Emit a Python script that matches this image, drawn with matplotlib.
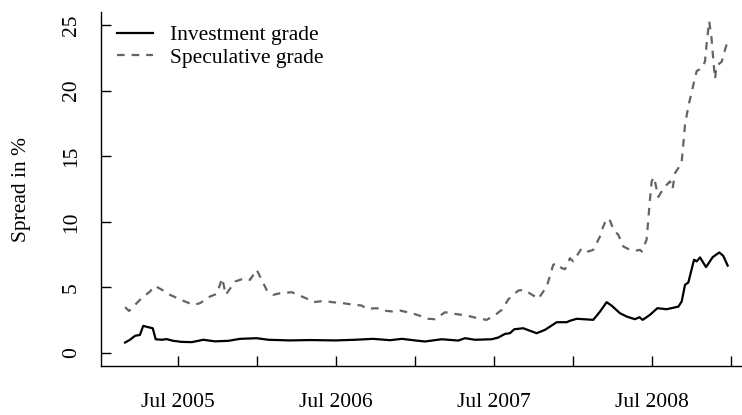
import matplotlib
matplotlib.use("Agg")
import matplotlib.pyplot as plt

plt.rcParams["font.family"] = ["Liberation Serif", "DejaVu Serif"]
plt.rcParams["lines.scale_dashes"] = False

# time in decimal years, spreads in %
ig_time = [2005.165, 2005.196, 2005.228, 2005.259, 2005.280, 2005.312, 2005.340,
           2005.359, 2005.397, 2005.428, 2005.470, 2005.523, 2005.587, 2005.660,
           2005.734, 2005.818, 2005.892, 2005.998, 2006.072, 2006.209, 2006.335,
           2006.494, 2006.620, 2006.734, 2006.842, 2006.918, 2007.000, 2007.063,
           2007.169, 2007.274, 2007.316, 2007.380, 2007.485, 2007.527, 2007.570,
           2007.601, 2007.628, 2007.685, 2007.770, 2007.823, 2007.854, 2007.897,
           2007.960, 2007.981, 2008.023, 2008.065, 2008.128, 2008.171, 2008.213,
           2008.245, 2008.297, 2008.340, 2008.392, 2008.420, 2008.441, 2008.487,
           2008.534, 2008.593, 2008.667, 2008.688, 2008.709, 2008.730, 2008.766,
           2008.783, 2008.804, 2008.842, 2008.884, 2008.926, 2008.951, 2008.979]
ig_spread = [0.79, 1.00, 1.30, 1.37, 2.06, 1.96, 1.88,
             1.04, 1.00, 1.05, 0.92, 0.84, 0.82, 1.00,
             0.88, 0.92, 1.07, 1.12, 1.00, 0.95, 0.98,
             0.95, 1.00, 1.07, 0.97, 1.07, 0.95, 0.87,
             1.04, 0.94, 1.12, 1.00, 1.04, 1.17, 1.45,
             1.50, 1.80, 1.88, 1.50, 1.76, 2.00, 2.34,
             2.34, 2.45, 2.60, 2.57, 2.52, 3.15, 3.87,
             3.60, 3.03, 2.77, 2.57, 2.72, 2.52, 2.90,
             3.41, 3.33, 3.53, 3.92, 5.19, 5.37, 7.10,
             6.98, 7.28, 6.54, 7.30, 7.66, 7.40, 6.66]

sg_time = [2005.165, 2005.190, 2005.249, 2005.270, 2005.323, 2005.354, 2005.418,
           2005.449, 2005.534, 2005.597, 2005.639, 2005.703, 2005.745, 2005.780,
           2005.802, 2005.861, 2005.924, 2005.956, 2005.998, 2006.061, 2006.103,
           2006.146, 2006.220, 2006.251, 2006.325, 2006.356, 2006.430, 2006.473,
           2006.546, 2006.589, 2006.663, 2006.694, 2006.758, 2006.799, 2006.863,
           2006.905, 2006.979, 2007.021, 2007.084, 2007.127, 2007.190, 2007.222,
           2007.296, 2007.337, 2007.411, 2007.454, 2007.517, 2007.549, 2007.591,
           2007.654, 2007.692, 2007.759, 2007.780, 2007.834, 2007.875, 2007.897,
           2007.929, 2007.949, 2007.981, 2008.002, 2008.055, 2008.097, 2008.128,
           2008.171, 2008.188, 2008.209, 2008.230, 2008.256, 2008.287, 2008.319,
           2008.361, 2008.403, 2008.424, 2008.435, 2008.466, 2008.487, 2008.498,
           2008.513, 2008.540, 2008.576, 2008.614, 2008.630, 2008.646, 2008.687,
           2008.698, 2008.709, 2008.730, 2008.757, 2008.783, 2008.814, 2008.835,
           2008.846, 2008.862, 2008.877, 2008.887, 2008.899, 2008.909, 2008.941,
           2008.962, 2008.979]
sg_spread = [3.49, 3.20, 3.92, 4.17, 4.68, 5.11, 4.68,
             4.43, 3.97, 3.66, 3.79, 4.30, 4.50, 5.70,
             4.43, 5.44, 5.70, 5.57, 6.34, 4.80, 4.43,
             4.55, 4.63, 4.47, 4.09, 3.87, 3.97, 3.87,
             3.79, 3.71, 3.61, 3.36, 3.41, 3.23, 3.15,
             3.23, 3.03, 2.87, 2.60, 2.57, 3.10, 3.03,
             2.90, 2.82, 2.60, 2.52, 2.98, 3.28, 4.09,
             4.76, 4.80, 4.30, 4.12, 5.06, 6.72, 6.84,
             6.46, 6.38, 7.22, 6.98, 7.98, 7.73, 7.86,
             8.88, 9.52, 10.15, 10.23, 9.39, 9.00, 8.11,
             7.86, 7.81, 7.86, 7.73, 8.63, 11.68, 13.08,
             13.40, 11.90, 12.60, 13.08, 12.50, 13.72, 14.47,
             15.88, 17.40, 18.80, 20.20, 21.50, 21.70, 22.20,
             23.60, 25.30, 24.00, 22.50, 20.90, 21.90, 22.20,
             23.10, 23.80]

tick_pos = [2005.5, 2006.0, 2006.5, 2007.0, 2007.5, 2008.0, 2008.5, 2009.0]
tick_lab = ["Jul 2005", "", "Jul 2006", "", "Jul 2007", "", "Jul 2008", ""]
y_ticks = [0, 5, 10, 15, 20, 25]

W, H = 742, 415
fig = plt.figure(figsize=(W / 100, H / 100), dpi=100)
ax = fig.add_axes([101 / W, (H - 366) / H, 651 / W, 354 / H])

ax.plot(ig_time, ig_spread, color="black", lw=1.6, label="Investment grade")
ax.plot(sg_time, sg_spread, color="#646464", lw=1.6, dashes=(5.5, 5),
        label="Speculative grade")

ax.set_xlim(2005.0127, 2009.133)
ax.set_ylim(-1, 26)

for s in ["top", "right"]:
    ax.spines[s].set_visible(False)
for s in ["left", "bottom"]:
    ax.spines[s].set_linewidth(1.0)

ax.set_xticks(tick_pos)
ax.set_xticklabels(tick_lab)
ax.set_yticks(y_ticks)
ax.set_yticklabels([str(v) for v in y_ticks], rotation=90, va="center")
ax.tick_params(axis="both", direction="in", length=7, width=1.0,
               labelsize=15.5)
ax.tick_params(axis="x", pad=19.5)
ax.tick_params(axis="y", pad=14.5)

ax.set_ylabel("Spread in %", fontsize=15.5)
ax.yaxis.set_label_coords(-0.107, 0.5)

ax.legend(loc="upper left", bbox_to_anchor=(117 / W, 1 - 25 / H),
          bbox_transform=fig.transFigure, frameon=False, fontsize=15.5,
          handlelength=1.65, handletextpad=0.8, labelspacing=0.13,
          borderpad=0, borderaxespad=0)

fig.savefig("out.png", dpi=100)
